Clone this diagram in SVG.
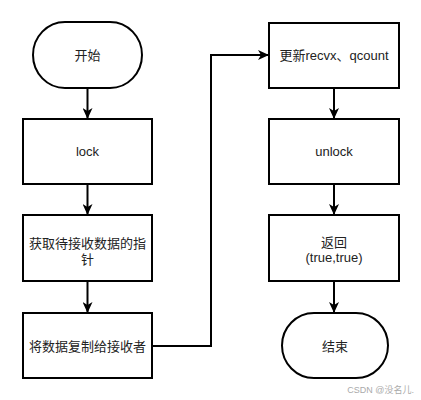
<svg xmlns="http://www.w3.org/2000/svg" width="421" height="400" viewBox="0 0 421 400">
<style>
.box{fill:#fff;stroke:#000;stroke-width:2}
.t{font-family:"Liberation Sans","Noto Sans CJK SC",sans-serif;font-size:13px;fill:#222;text-anchor:middle}
.c{fill:none;stroke:#000;stroke-width:2}
.wm{font-family:"Liberation Sans","Noto Sans CJK SC",sans-serif;font-size:9px;fill:#aaa;text-anchor:end}
</style>
<defs>
<marker id="ah" viewBox="0 0 11 10" refX="11" refY="5" markerWidth="11" markerHeight="10" markerUnits="userSpaceOnUse" orient="auto">
<path d="M0,0 L11,5 L0,10 L3,5 Z" fill="#000"/>
</marker>
</defs>
<rect width="421" height="400" fill="#fff"/>
<g id="connectors">
<line class="c" x1="87.5" y1="88" x2="87.5" y2="119" marker-end="url(#ah)"/>
<line class="c" x1="87.5" y1="184" x2="87.5" y2="215" marker-end="url(#ah)"/>
<line class="c" x1="87.5" y1="281" x2="87.5" y2="313" marker-end="url(#ah)"/>
<polyline class="c" points="152,346 211,346 211,55 269,55" marker-end="url(#ah)"/>
<line class="c" x1="334" y1="88" x2="334" y2="119" marker-end="url(#ah)"/>
<line class="c" x1="334" y1="184" x2="334" y2="215" marker-end="url(#ah)"/>
<line class="c" x1="334" y1="281" x2="334" y2="313" marker-end="url(#ah)"/>
</g>
<g id="start">
<rect class="box" x="33" y="22" width="109" height="66" rx="32" ry="33"/>
<text class="t" x="87.5" y="59.5">开始</text>
</g>
<g id="lock">
<rect class="box" x="23" y="119" width="129" height="65"/>
<text class="t" x="87.5" y="156">lock</text>
</g>
<g id="getptr">
<rect class="box" x="23" y="215" width="129" height="66"/>
<text class="t" x="87.5" y="247.5">获取待接收数据的指</text>
<text class="t" x="87.5" y="263.5">针</text>
</g>
<g id="copy">
<rect class="box" x="23" y="313" width="129" height="65"/>
<text class="t" x="87.5" y="350.5">将数据复制给接收者</text>
</g>
<g id="update">
<rect class="box" x="269" y="23" width="130" height="65"/>
<text class="t" x="334" y="60">更新recvx、qcount</text>
</g>
<g id="unlock">
<rect class="box" x="269" y="119" width="130" height="65"/>
<text class="t" x="334" y="156">unlock</text>
</g>
<g id="return">
<rect class="box" x="269" y="215" width="130" height="66"/>
<text class="t" x="334" y="247">返回</text>
<text class="t" x="334" y="262">(true,true)</text>
</g>
<g id="end">
<rect class="box" x="282" y="313" width="106" height="65" rx="32" ry="32.5"/>
<text class="t" x="335" y="350.5">结束</text>
</g>
<text class="wm" x="414" y="393">CSDN @没名儿.</text>
</svg>
